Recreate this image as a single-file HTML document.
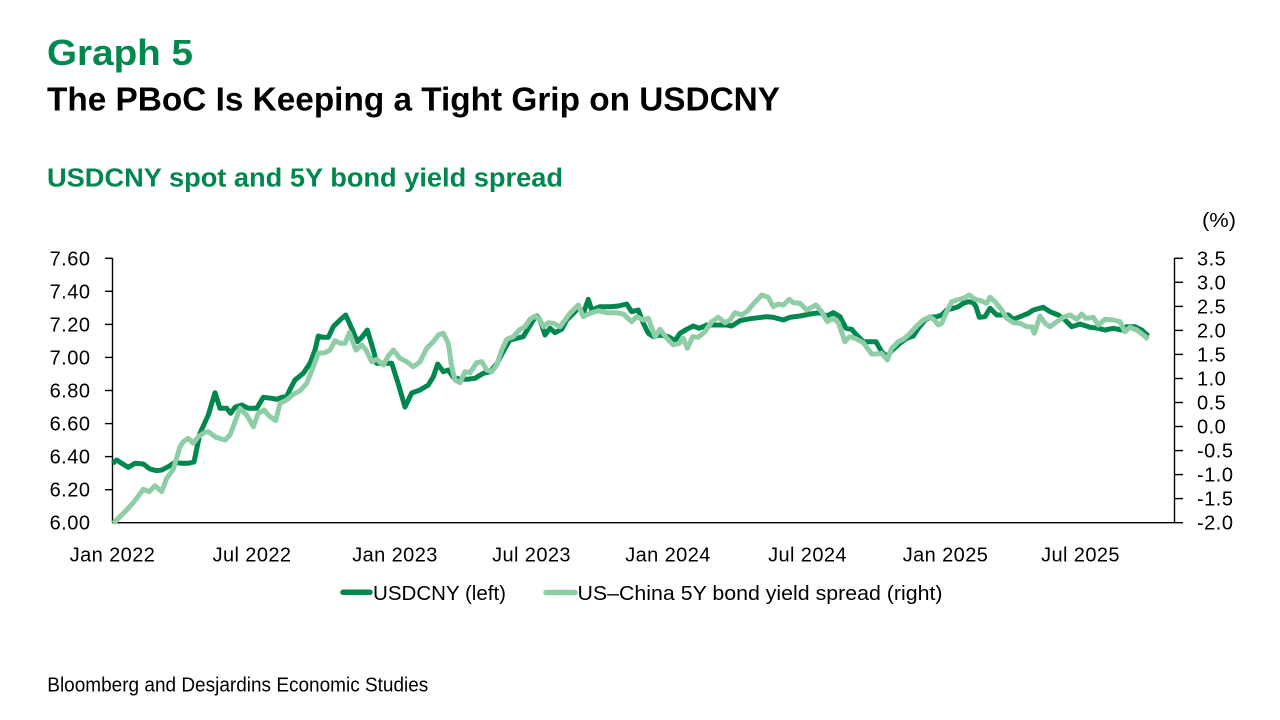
<!DOCTYPE html>
<html>
<head>
<meta charset="utf-8">
<style>
  html,body{margin:0;padding:0;background:#ffffff;}
  svg{display:block;}
  text{font-family:"Liberation Sans",sans-serif;}
</style>
</head>
<body>
<svg width="1280" height="720" viewBox="0 0 1280 720" xmlns="http://www.w3.org/2000/svg">
  <rect x="0" y="0" width="1280" height="720" fill="#ffffff"/>

  <!-- Titles -->
  <text x="47" y="65" font-size="36" font-weight="bold" fill="#00874E" textLength="146" lengthAdjust="spacingAndGlyphs">Graph 5</text>
  <text x="47" y="110.5" font-size="33" font-weight="bold" fill="#000000" textLength="733" lengthAdjust="spacingAndGlyphs">The PBoC Is Keeping a Tight Grip on USDCNY</text>
  <text x="47" y="186.5" font-size="25.5" font-weight="bold" fill="#00874E" textLength="516" lengthAdjust="spacingAndGlyphs">USDCNY spot and 5Y bond yield spread</text>

  <!-- (%) -->
  <text x="1202" y="227" font-size="20" fill="#000" textLength="34" lengthAdjust="spacingAndGlyphs">(%)</text>

  <!-- Axes -->
  <g stroke="#000" stroke-width="1.4" fill="none">
    <line x1="112.5" y1="258" x2="112.5" y2="523"/>
    <line x1="1174.5" y1="258" x2="1174.5" y2="523"/>
    <line x1="112" y1="522.7" x2="1175" y2="522.7"/>
    <!-- left ticks -->
    <line x1="105" y1="258.3" x2="112.5" y2="258.3"/>
    <line x1="105" y1="291.3" x2="112.5" y2="291.3"/>
    <line x1="105" y1="324.4" x2="112.5" y2="324.4"/>
    <line x1="105" y1="357.4" x2="112.5" y2="357.4"/>
    <line x1="105" y1="390.5" x2="112.5" y2="390.5"/>
    <line x1="105" y1="423.6" x2="112.5" y2="423.6"/>
    <line x1="105" y1="456.6" x2="112.5" y2="456.6"/>
    <line x1="105" y1="489.7" x2="112.5" y2="489.7"/>
    <!-- right ticks -->
    <line x1="1174.5" y1="258.3" x2="1183" y2="258.3"/>
    <line x1="1174.5" y1="282.3" x2="1183" y2="282.3"/>
    <line x1="1174.5" y1="306.4" x2="1183" y2="306.4"/>
    <line x1="1174.5" y1="330.4" x2="1183" y2="330.4"/>
    <line x1="1174.5" y1="354.4" x2="1183" y2="354.4"/>
    <line x1="1174.5" y1="378.5" x2="1183" y2="378.5"/>
    <line x1="1174.5" y1="402.5" x2="1183" y2="402.5"/>
    <line x1="1174.5" y1="426.5" x2="1183" y2="426.5"/>
    <line x1="1174.5" y1="450.6" x2="1183" y2="450.6"/>
    <line x1="1174.5" y1="474.6" x2="1183" y2="474.6"/>
    <line x1="1174.5" y1="498.6" x2="1183" y2="498.6"/>
    <line x1="1174.5" y1="522.7" x2="1183" y2="522.7"/>
  </g>

  <!-- Left labels -->
  <g font-size="20" fill="#000" text-anchor="end" letter-spacing="0.5">
    <text x="90.5" y="265.3">7.60</text>
    <text x="90.5" y="298.3">7.40</text>
    <text x="90.5" y="331.4">7.20</text>
    <text x="90.5" y="364.4">7.00</text>
    <text x="90.5" y="397.5">6.80</text>
    <text x="90.5" y="430.6">6.60</text>
    <text x="90.5" y="463.6">6.40</text>
    <text x="90.5" y="496.7">6.20</text>
    <text x="90.5" y="529.7">6.00</text>
  </g>

  <!-- Right labels -->
  <g font-size="20" fill="#000" letter-spacing="0.5">
    <text x="1197" y="265.3">3.5</text>
    <text x="1197" y="289.3">3.0</text>
    <text x="1197" y="313.4">2.5</text>
    <text x="1197" y="337.4">2.0</text>
    <text x="1197" y="361.4">1.5</text>
    <text x="1197" y="385.5">1.0</text>
    <text x="1197" y="409.5">0.5</text>
    <text x="1197" y="433.5">0.0</text>
    <text x="1197" y="457.6">-0.5</text>
    <text x="1197" y="481.6">-1.0</text>
    <text x="1197" y="505.6">-1.5</text>
    <text x="1197" y="529.7">-2.0</text>
  </g>

  <!-- X labels -->
  <g font-size="20" fill="#000" text-anchor="middle" letter-spacing="0.4">
    <text x="112.5" y="561.5">Jan 2022</text>
    <text x="252" y="561.5">Jul 2022</text>
    <text x="395" y="561.5">Jan 2023</text>
    <text x="531.5" y="561.5">Jul 2023</text>
    <text x="668" y="561.5">Jan 2024</text>
    <text x="807.5" y="561.5">Jul 2024</text>
    <text x="945.5" y="561.5">Jan 2025</text>
    <text x="1080.5" y="561.5">Jul 2025</text>
  </g>

  <!-- Series: USDCNY (dark) -->
  <polyline fill="none" stroke="#00874E" stroke-width="5" stroke-linejoin="round" stroke-linecap="butt" points="
112.7,463.3 116.7,460 121.7,463.3 128.3,467.3 135,463.3 143.3,464 150,469 156.7,470.7 161.7,470 168.3,466.7 175,462.3 181.7,463.3 188.3,463.3 194,462 200,433.3 208.3,415 215,392.7 220,408.3 226.7,408.3 230.7,413.3 235,407.3 241.7,405 248.3,408.3 256.7,408.3 263.3,397.3 271.7,398.3 276.7,399.3 281.7,397.3 286.7,396.7 290,389.3 295,380 303.3,373.3 310,363.3 315,350 318.3,336 323.3,337.3 328.3,337.3 333.3,326.7 340,320 345.7,315 351.7,328.3 357.3,341.7 362.3,336.7 367.3,330 373.3,350 376.7,363.3 383.3,363.3 391.7,363.3 398,383 405,407 411.7,393 420,390 428.3,385 433.3,376.7 437.7,364 443.3,371.7 448.3,370 453.3,377.3 460,379.3 466.7,379.3 475,378.3 483.3,373.3 490,371.7 496.7,364 505,348.3 510,340 516.7,338.3 523.3,336.7 528.3,328.3 533.3,320 536.7,316 540,320 545,335 550,328.3 555,332.7 561.7,329.3 566.7,320 575,311.7 578.3,306.7 583.3,313.3 588.3,299.3 591.7,310 600,306.7 610,306.7 618.3,306 626.7,304 631.7,311.7 638.3,310 643.3,323.3 648.3,333.3 653.3,336.7 660,335 668.3,336.7 675,340.7 680,333.3 686.7,329.3 693.3,326 699.3,328.3 706.7,325 716.7,325 726.7,325 731.7,326 740,320.7 746.7,319.3 753.3,318.3 766.7,316.7 773.3,317.3 783.3,320 790,317.3 800,316 810,314 820,312.7 826.7,316 833.3,312.7 840,316.7 846,328.3 851.7,329.3 855,333.3 863.3,341.7 868.3,341.7 876,341.7 881.7,351.7 886.7,356.7 891.7,350.7 900,343.3 906.7,338.3 913.3,336 918.3,328.3 925,320 930,317.3 936.7,316.7 941.7,315 946.7,310 953.3,308.3 958.3,306.7 963.3,303.3 968.3,301.7 973.3,302.7 976,306.7 979.3,317.3 985,316.7 990,308.3 996.7,315 1003.3,315 1008.3,315 1013.3,319.3 1020,316.7 1028.3,313.3 1033.3,310 1043.3,307.3 1050,311.7 1058.3,315 1065,320 1071.7,326.7 1080,324 1090,327.3 1098.3,328.3 1105,330 1113.3,328.3 1121.7,330 1126.7,326.7 1135,326.7 1141.7,330 1148.3,336"/>

  <!-- Series: spread (light) -->
  <polyline fill="none" stroke="#8FCDA7" stroke-width="5" stroke-linejoin="round" stroke-linecap="butt" points="
113.3,523.3 120,516.7 128.3,508.3 136.7,498.3 143.3,489.3 149.3,491.7 155,485.7 161.7,491.7 166.7,478.3 173.3,469.3 180,446.7 183.3,441.7 188.3,438.3 193.3,443.3 198.3,436.7 205,432.3 208.3,431.7 216,437.3 225,440 230,435 235,421.7 240,408.3 246.7,415 253.3,426.7 258.3,413.3 264,410 269.3,416 275.7,420.7 280,403.3 286.7,400 293.3,394.3 300,390.7 306.7,383.3 313.3,366.7 318.3,353.3 325,352.7 330,350 335,340.7 340,343.3 345,343.3 349.3,332.7 356,350 361.7,345 366,350 371.7,361.7 376.7,359.3 383.3,365 388.3,356 393.3,350 400,358.3 406.7,361.7 413.3,366.7 420,361.7 426.7,348.3 433.3,341.7 438.3,335 443.3,333.3 448.3,343.3 451.7,366.7 455,380 460,382.7 465,371.7 470,372.7 476.7,362.7 481.7,361.7 486.7,370 491.7,371.7 496.7,365 501.7,350 506.7,339.3 513.3,336.7 520,329.3 525,326.7 530,319.3 535,316 540,320 543.3,326.7 548.3,322.7 553.3,323.3 560,326.7 565,320 570,313.3 575,308.3 578.3,305 583.3,316.7 590,313.3 598.3,310.7 606.7,312.7 616.7,312.7 623.3,314 631.7,321.7 636.7,316.7 643.3,320 648.3,318.3 655,336.7 660,329.3 666.7,338.3 673.3,345 679.3,343.3 683.3,338.3 687.3,348.3 692.7,336.7 698.3,337.3 705,331.7 711.7,321.7 718.3,317.3 725,322.7 730,320 735,312.7 741.7,315 746.7,311.7 753.3,304 761.7,295 768.3,297.3 773.3,306.7 778.3,304 783.3,305 789.3,299.3 793.3,302.7 800,303.3 806.7,310 816,305 821.7,311.7 827.3,321.7 833.3,318.3 838.3,322.7 845,341.7 849.3,336.7 855,338.3 863.3,342.7 871.7,354 876.7,354 881.7,353.3 887.3,360 891.7,348.3 898.3,341.7 903.3,339.3 910,333.3 916.7,326 923.3,320 930,316.7 935,320.7 938.3,325 941.7,323.3 946.7,311.7 951.7,301.7 956.7,300 963.3,298.3 969.3,295 975,299.3 981.7,301 986.7,303.3 990,297.3 995,301.7 1001.7,310 1006.7,318.3 1013.3,322.7 1020,323.3 1026.7,326.7 1031.7,326.7 1034.3,333.3 1040,316 1045,323.3 1050,326.7 1056.7,321.7 1063.3,317.3 1070,315 1076.7,319.3 1081.7,314 1086,318.3 1093.3,317.3 1098.3,325 1105,319.3 1113.3,320 1120,321.7 1125,331.7 1130,327.3 1136.7,330 1143.3,335 1148.3,339.3"/>

  <!-- Legend -->
  <line x1="343" y1="592.3" x2="370" y2="592.3" stroke="#00874E" stroke-width="5.5" stroke-linecap="round"/>
  <text x="373" y="600" font-size="20" fill="#000" textLength="133" lengthAdjust="spacingAndGlyphs">USDCNY (left)</text>
  <line x1="546" y1="592.5" x2="575" y2="592.5" stroke="#8FCDA7" stroke-width="5.5" stroke-linecap="round"/>
  <text x="577.5" y="600" font-size="20" fill="#000" textLength="365" lengthAdjust="spacingAndGlyphs">US–China 5Y bond yield spread (right)</text>

  <!-- Footer -->
  <text x="47.3" y="691.5" font-size="20" fill="#000" textLength="381" lengthAdjust="spacingAndGlyphs">Bloomberg and Desjardins Economic Studies</text>
</svg>
</body>
</html>
